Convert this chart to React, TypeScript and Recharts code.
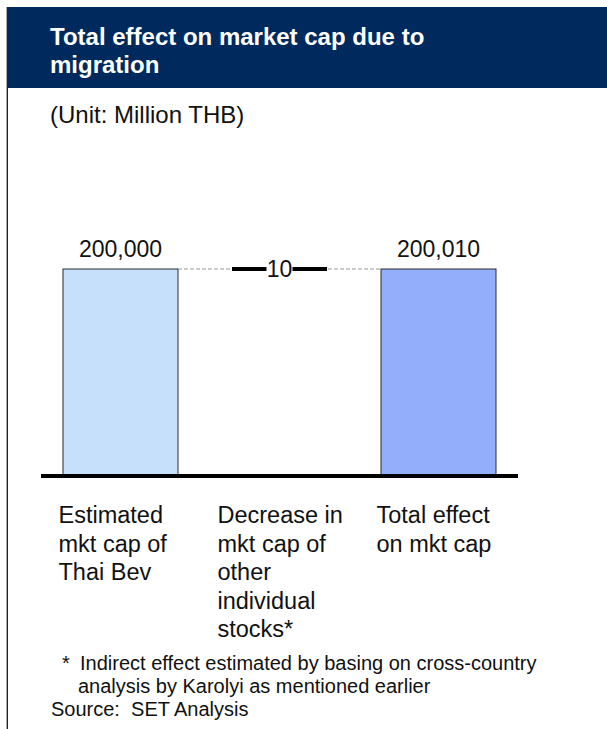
import React from "react";
import { Bar, BarChart, Cell, LabelList, XAxis, YAxis } from "recharts";

const categories = ["Estimated", "Decrease", "Total"];
const categoryLines = [
  ["Estimated", "mkt cap of", "Thai Bev"],
  ["Decrease in", "mkt cap of", "other", "individual", "stocks*"],
  ["Total effect", "on mkt cap"],
];
const values = [200000, 10, 200010];
const bases = [0, 200000, 0];
const valueLabels = ["200,000", "10", "200,010"];
const barColors = ["#C6E0FB", "#000000", "#93AFFB"];

const data = categories.map((name, i) => ({
  name,
  base: bases[i],
  value: values[i],
  label: valueLabels[i],
}));

const FONT = '"Liberation Sans", Arial, sans-serif';
const BAND_GAP = 44;

const WaterfallBar = (props: any) => {
  const { x, y, width, height, index, fill } = props;
  if (index === 1) {
    const ly = y + height;
    return (
      <g>
        <line
          x1={x - BAND_GAP}
          x2={x + width + BAND_GAP}
          y1={ly}
          y2={ly}
          stroke="#9a9a9a"
          strokeWidth={1}
          strokeDasharray="4 2"
        />
        <line x1={x + 10} x2={x + width - 10} y1={ly} y2={ly} stroke="#000" strokeWidth={4} />
      </g>
    );
  }
  return <rect x={x} y={y} width={width} height={height} fill={fill} stroke="#2b2b2b" strokeWidth={1} />;
};

const ValueLabel = (props: any) => {
  const { x, y, width, height, index, value } = props;
  const cx = x + width / 2;
  if (index === 1) {
    const ly = y + height;
    return (
      <g>
        <rect x={cx - 13} y={ly - 9} width={26} height={18} fill="#fff" />
        <text x={cx} y={ly + 8} textAnchor="middle" fontSize={23} fontFamily={FONT} fill="#111">
          {value}
        </text>
      </g>
    );
  }
  return (
    <text x={cx} y={y - 12} textAnchor="middle" fontSize={23} fontFamily={FONT} fill="#111">
      {value}
    </text>
  );
};

const CategoryTick = (props: any) => {
  const { x, y, payload, index } = props;
  const lines = categoryLines[index] || [payload.value];
  return (
    <text x={x - 62} y={y} fontSize={23.5} fontFamily={FONT} fill="#111">
      {lines.map((l: string, i: number) => (
        <tspan key={i} x={x - 62} y={y + 39 + i * 28.6}>
          {l}
        </tspan>
      ))}
    </text>
  );
};

export default function App() {
  return (
    <div
      style={{
        position: "absolute",
        left: 0,
        top: 0,
        width: 607,
        height: 729,
        overflow: "hidden",
        background: "#fff",
        fontFamily: FONT,
      }}
    >
      <div style={{ position: "absolute", left: 6, top: 7, width: 1, height: 722, background: "#aaa" }} />
      <div style={{ position: "absolute", left: 7, top: 7, width: 1, height: 722, background: "#222" }} />
      <div
        style={{
          position: "absolute",
          left: 8,
          top: 7,
          width: 599,
          height: 81,
          background: "#002A5E",
        }}
      />
      <div
        style={{
          position: "absolute",
          left: 50,
          top: 23,
          color: "#fff",
          fontWeight: "bold",
          fontSize: 24,
          lineHeight: "28px",
        }}
      >
        Total effect on market cap due to
        <br />
        migration
      </div>
      <div style={{ position: "absolute", left: 50, top: 101, fontSize: 24, lineHeight: "28px", color: "#111" }}>
        (Unit: Million THB)
      </div>

      <div style={{ position: "absolute", left: 0, top: 0 }}>
        <BarChart
          width={607}
          height={729}
          data={data}
          margin={{ top: 269, right: 89, bottom: 73, left: 41 }}
          barSize={115}
        >
          <XAxis
            dataKey="name"
            height={180}
            tickLine={false}
            axisLine={{ stroke: "#000", strokeWidth: 4 }}
            tick={<CategoryTick />}
            interval={0}
          />
          <YAxis hide domain={[0, 200010]} />
          <Bar dataKey="base" stackId="a" fill="transparent" isAnimationActive={false} />
          <Bar dataKey="value" stackId="a" shape={<WaterfallBar />} isAnimationActive={false}>
            {data.map((d, i) => (
              <Cell key={d.name} fill={barColors[i]} />
            ))}
            <LabelList dataKey="label" content={<ValueLabel />} />
          </Bar>
        </BarChart>
      </div>

      <div style={{ position: "absolute", left: 62, top: 652, fontSize: 20, lineHeight: "23px", color: "#111" }}>*</div>
      <div style={{ position: "absolute", left: 80, top: 652, fontSize: 20, lineHeight: "23px", color: "#111" }}>
        Indirect effect estimated by basing on cross-country
        <br />
        <span style={{ marginLeft: -2 }}>analysis by Karolyi as mentioned earlier</span>
      </div>
      <div style={{ position: "absolute", left: 51, top: 698, fontSize: 20, lineHeight: "23px", color: "#111" }}>
        Source:&nbsp; SET Analysis
      </div>
    </div>
  );
}
